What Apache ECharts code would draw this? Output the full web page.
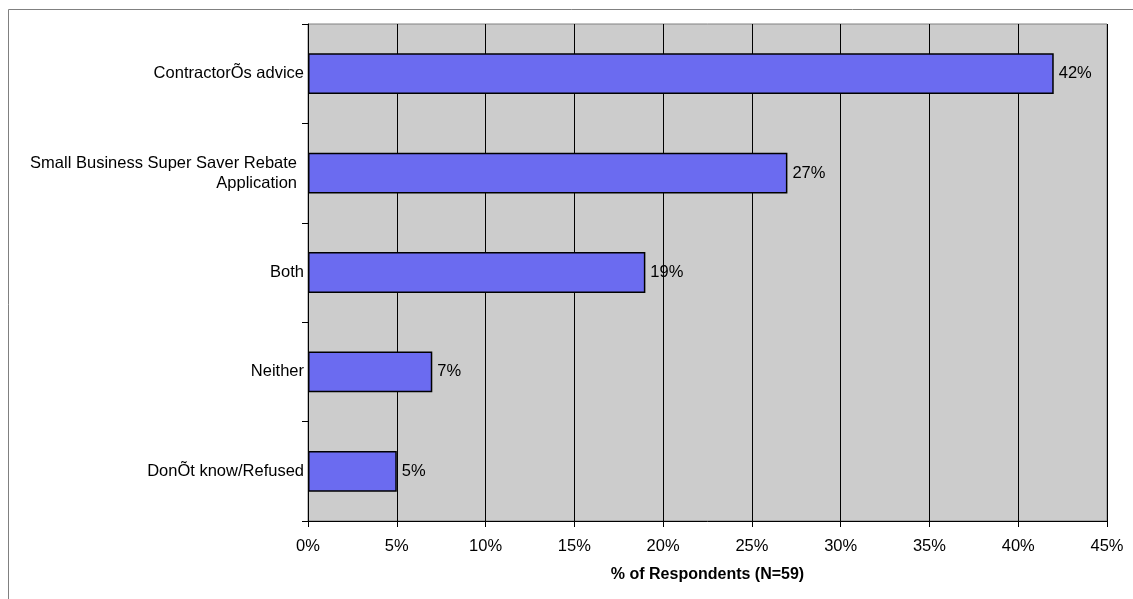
<!DOCTYPE html>
<html>
<head>
<meta charset="utf-8">
<script src="https://cdn.jsdelivr.net/npm/echarts@6/dist/echarts.min.js"></script>
<style>
  html, body { margin: 0; padding: 0; background: #fff; }
  #chart { width: 1133px; height: 599px; }
</style>
</head>
<body>
<div id="chart"></div>
<script>
// survey answers, top to bottom
var categories = [
  'ContractorÕs advice',
  'Small Business Super Saver Rebate\nApplication',
  'Both',
  'Neither',
  'DonÕt know/Refused'
];
var percents = [42, 27, 19, 7, 5];
var axisName = '% of Respondents (N=59)';

var myChart = echarts.init(document.getElementById('chart'));
var font = 'Liberation Sans, Arial, sans-serif';

var option = {
  backgroundColor: '#fff',
  animation: false,
  textStyle: { fontFamily: font },
  graphic: [{
    type: 'rect',
    shape: { x: 8.5, y: 9.5, width: 1130, height: 620 },
    style: { fill: 'none', stroke: '#808080', lineWidth: 1 },
    silent: true
  }],
  grid: {
    left: 308, right: 26, top: 24, bottom: 78,
    show: true,
    backgroundColor: '#cccccc',
    borderColor: '#808080',
    borderWidth: 1
  },
  xAxis: {
    type: 'value',
    min: 0, max: 45, interval: 5,
    name: axisName,
    nameLocation: 'middle',
    nameGap: 46,
    nameTextStyle: { fontFamily: font, fontSize: 16, fontWeight: 'bold', color: '#000' },
    axisLine: { show: true, lineStyle: { color: '#000', width: 1 } },
    axisTick: { show: true, length: 6, lineStyle: { color: '#000' } },
    axisLabel: { formatter: '{value}%', margin: 17, fontFamily: font, fontSize: 16.5, color: '#000' },
    splitLine: { show: true, lineStyle: { color: '#000', width: 1 } }
  },
  yAxis: {
    type: 'category',
    inverse: true,
    data: categories,
    axisLine: { show: true, lineStyle: { color: '#000', width: 1 } },
    axisTick: { show: true, length: 6, lineStyle: { color: '#000' } },
    axisLabel: {
      margin: 4, fontFamily: font, fontSize: 16.5, color: '#000', lineHeight: 20, align: 'right',
      formatter: function (v) {
        return v.indexOf('\n') >= 0 ? '{m|' + v + '}' : v;
      },
      rich: {
        m: { fontFamily: font, fontSize: 16.5, color: '#000', lineHeight: 20, align: 'right', padding: [0, 7, 0, 0] }
      }
    },
    splitLine: { show: false }
  },
  series: [{
    type: 'bar',
    data: percents,
    barWidth: '41%',
    itemStyle: { color: '#6b6bf0', borderColor: '#000', borderWidth: 1.5 },
    label: {
      show: true, position: 'right', distance: 5,
      formatter: '{c}%', fontFamily: font, fontSize: 16.5, color: '#000'
    }
  }]
};

myChart.setOption(option);
</script>
</body>
</html>
